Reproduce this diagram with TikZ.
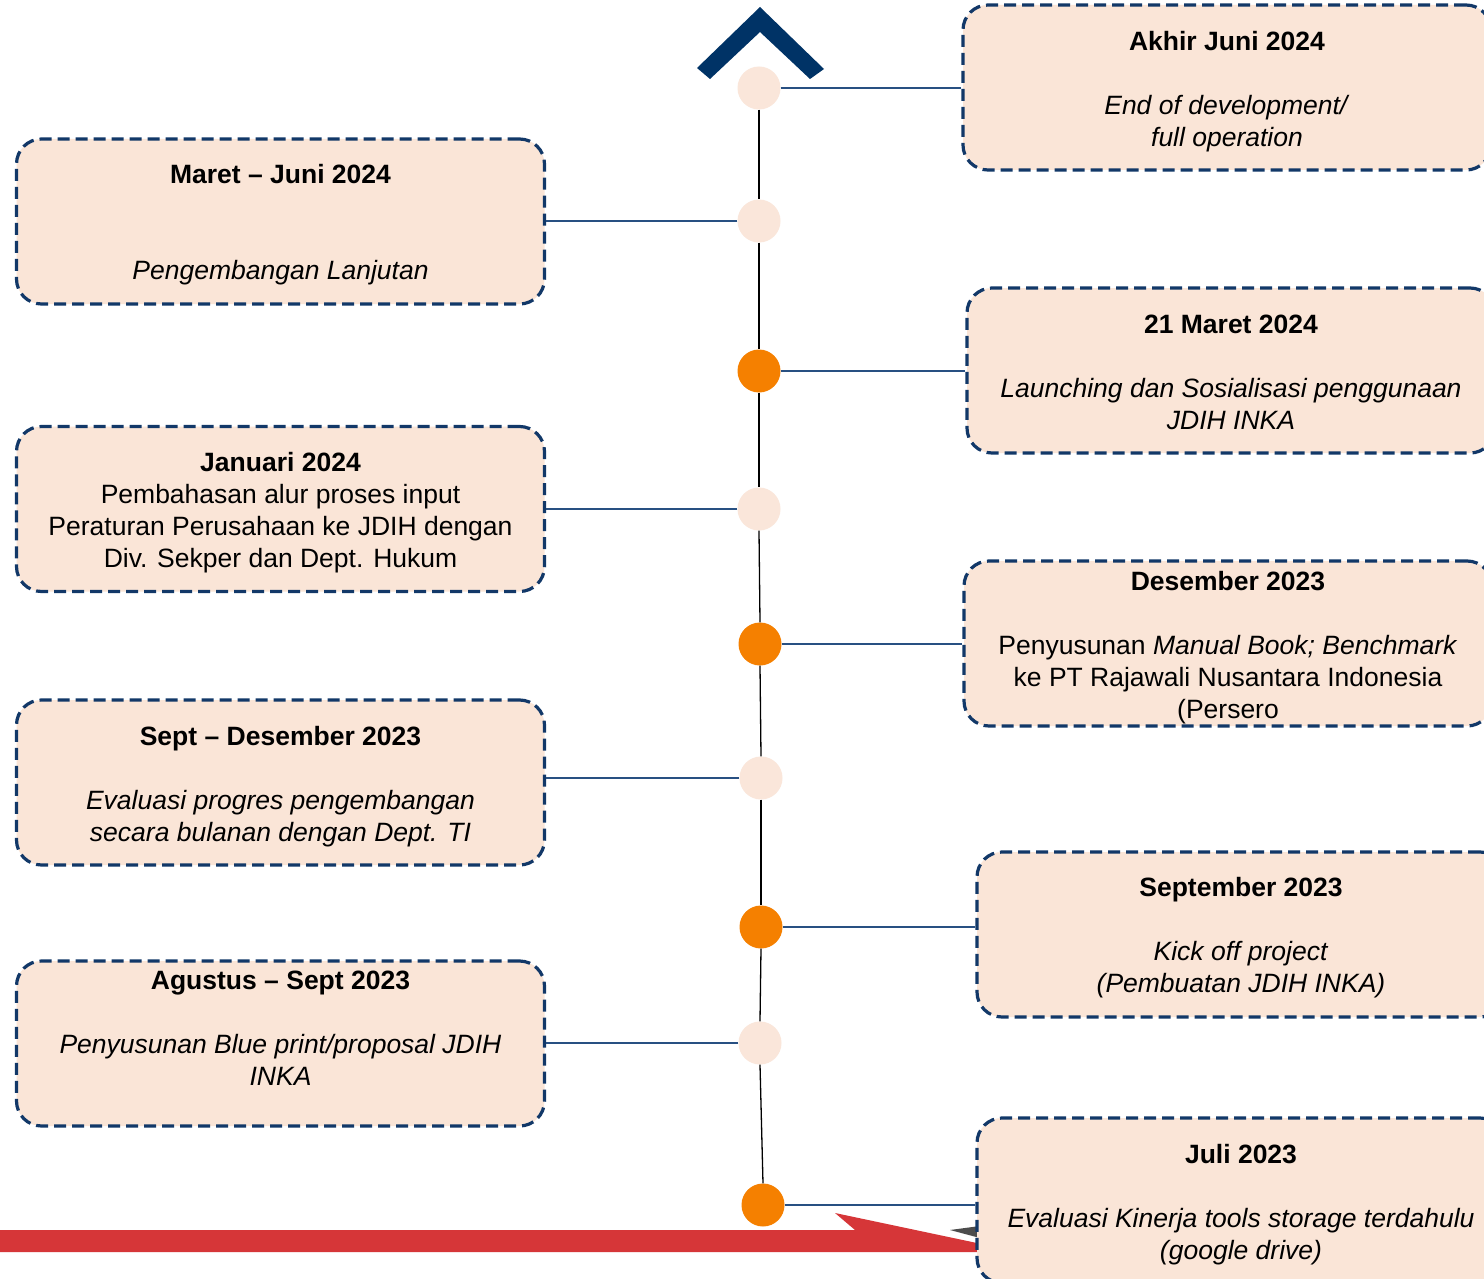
\documentclass[tikz,border=0pt]{standalone}
\usepackage{fontspec}
\setmainfont{Liberation Sans}
\definecolor{peach}{RGB}{250,229,215}
\definecolor{dotlt}{RGB}{250,230,218}
\definecolor{orng}{RGB}{245,128,0}
\definecolor{navy}{RGB}{0,51,102}
\definecolor{dashblue}{RGB}{18,56,104}
\definecolor{conn}{RGB}{40,80,130}
\definecolor{redarrow}{RGB}{214,54,56}
\tikzset{
 card/.style={draw=dashblue, fill=peach, line width=3.2pt, dash pattern=on 12pt off 6pt, rounded corners=25pt, minimum width=528pt, minimum height=165pt, inner sep=0pt},
 txt/.style={align=center, font=\fontsize{26.5}{32}\selectfont, inner sep=0pt},
 dotlight/.style={circle, fill=dotlt, minimum size=43pt, inner sep=0pt},
 dotorange/.style={circle, fill=orng, minimum size=43pt, inner sep=0pt},
 spine/.style={black, line width=1.3pt},
 link/.style={conn, line width=1.5pt},
}
\begin{document}
\begin{tikzpicture}[x=1pt,y=-1pt]
\clip (0,0) rectangle (1484,1279);
\fill[white] (0,0) rectangle (1484,1279);
% red arrow
\fill[redarrow] (0,1230) -- (855,1230) -- (835,1213) -- (1010,1250) -- (1010,1252) -- (0,1252) -- cycle;
\fill[black!70] (950,1230) -- (980,1226) -- (980,1238) -- cycle;
% chevron
\fill[navy] (760,7) -- (824,69) -- (810,79) -- (760,32) -- (710,79) -- (697,68) -- cycle;
% boxes
\node[card] (A) at (280.5,221.5) {};
\node[card] (B) at (280.5,509) {};
\node[card] (C) at (280.5,782.5) {};
\node[card] (D) at (280.5,1043.5) {};
\node[card] (E) at (1227,87.5) {};
\node[card] (F) at (1231,370.5) {};
\node[card] (G) at (1228,643.5) {};
\node[card] (H) at (1241,934.5) {};
\node[card] (I) at (1241,1200.5) {};
% texts
\node[txt] (tA) at (280.5,225) {\strut\textbf{Maret -- Juni 2024}\\[64pt]\textit{Pengembangan Lanjutan}\strut};
\node[txt] (tB) at (280.5,513) {\strut\textbf{Januari 2024}\\Pembahasan alur proses input\\Peraturan Perusahaan ke JDIH dengan\\Div. Sekper dan Dept. Hukum\strut};
\node[txt] (tC) at (280.5,787) {\strut\textbf{Sept -- Desember 2023}\\[32pt]\textit{Evaluasi progres pengembangan}\\\textit{secara bulanan dengan Dept. TI}\strut};
\node[txt] (tD) at (280.5,1031) {\strut\textbf{Agustus -- Sept 2023}\\[32pt]\textit{Penyusunan Blue print/proposal JDIH}\\\textit{INKA}\strut};
\node[txt] (tE) at (1227,92) {\strut\textbf{Akhir Juni 2024}\\[32pt]\textit{End of development/}\\\textit{full operation}\strut};
\node[txt] (tF) at (1231,375) {\strut\textbf{21 Maret 2024}\\[32pt]\textit{Launching dan Sosialisasi penggunaan}\\\textit{JDIH INKA}\strut};
\node[txt] (tG) at (1228,648) {\strut\textbf{Desember 2023}\\[32pt]Penyusunan \textit{Manual Book; Benchmark}\\ke PT Rajawali Nusantara Indonesia\\(Persero\strut};
\node[txt] (tH) at (1241,938) {\strut\textbf{September 2023}\\[32pt]\textit{Kick off project}\\\textit{(Pembuatan JDIH INKA)}\strut};
\node[txt] (tI) at (1241,1205) {\strut\textbf{Juli 2023}\\[32pt]\textit{Evaluasi Kinerja tools storage terdahulu}\\\textit{(google drive)}\strut};
% circles
\node[dotlight] (c1) at (759,88) {};
\node[dotlight] (c2) at (759,221) {};
\node[dotorange] (c3) at (759,371) {};
\node[dotlight] (c4) at (759,509) {};
\node[dotorange] (c5) at (760,644) {};
\node[dotlight] (c6) at (761,778) {};
\node[dotorange] (c7) at (761,927) {};
\node[dotlight] (c8) at (760,1043) {};
\node[dotorange] (c9) at (763,1205) {};
% spine
\draw[spine] (c1.south) -- (c2.north);
\draw[spine] (c2.south) -- (c3.north);
\draw[spine] (c3.south) -- (c4.north);
\draw[spine] (c4.south) -- (c5.north);
\draw[spine] (c5.south) -- (c6.north);
\draw[spine] (c6.south) -- (c7.north);
\draw[spine] (c7.south) -- (c8.north);
\draw[spine] (c8.south) -- (c9.north);
% connectors
\draw[link] (c1.east) -- (c1.east -| E.west);
\draw[link] (c2.west) -- (c2.west -| A.east);
\draw[link] (c3.east) -- (c3.east -| F.west);
\draw[link] (c4.west) -- (c4.west -| B.east);
\draw[link] (c5.east) -- (c5.east -| G.west);
\draw[link] (c6.west) -- (c6.west -| C.east);
\draw[link] (c7.east) -- (c7.east -| H.west);
\draw[link] (c8.west) -- (c8.west -| D.east);
\draw[link] (c9.east) -- (c9.east -| I.west);
\end{tikzpicture}
\end{document}
